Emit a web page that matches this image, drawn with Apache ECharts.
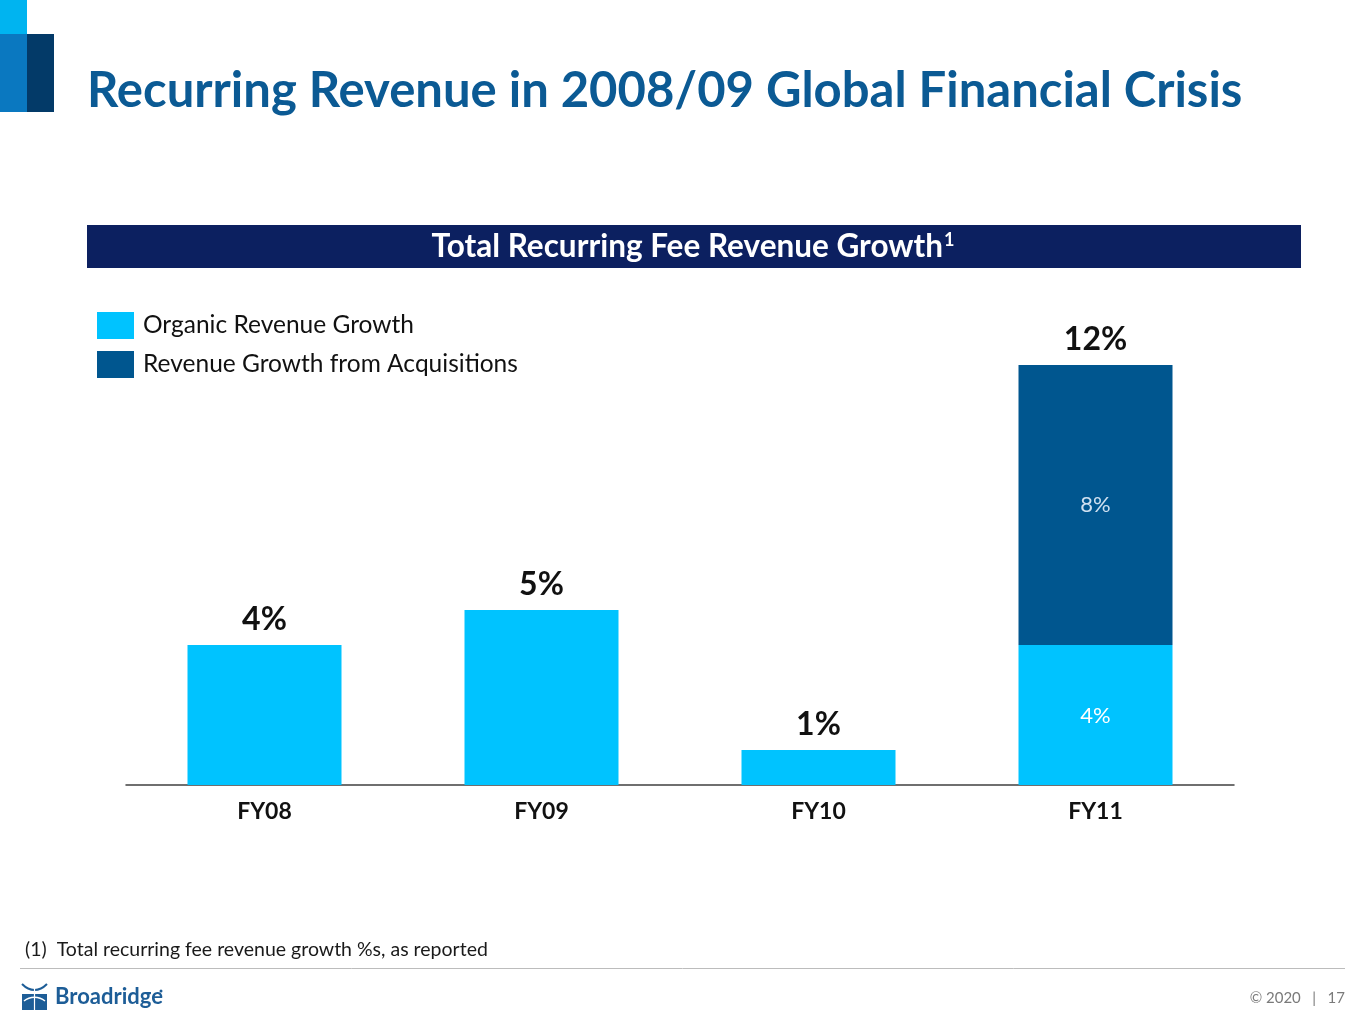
<!DOCTYPE html>
<html>
<head>
<meta charset="utf-8">
<script src="https://cdn.jsdelivr.net/npm/echarts@6/dist/echarts.min.js"></script>
<style>
  html, body { margin: 0; padding: 0; background: #fff; }
  #chart { width: 1365px; height: 1024px; }
</style>
</head>
<body>
<div id="chart"></div>
<script>
const categories = ['FY08', 'FY09', 'FY10', 'FY11'];
const organicGrowth = [4, 5, 1, 4];
const acquisitionGrowth = [null, null, null, 8];
const totalGrowth = [4, 5, 1, 12];
const seriesNames = ['Organic Revenue Growth', 'Revenue Growth from Acquisitions'];

const FONT = 'Lato, "Open Sans", sans-serif';
const CYAN = '#00c3ff';
const DARK = '#00568f';

const chart = echarts.init(document.getElementById('chart'), null, { renderer: 'canvas' });

const option = {
  backgroundColor: '#ffffff',
  animation: false,
  textStyle: { fontFamily: FONT },
  graphic: [
    // top-left logo blocks
    { type: 'rect', shape: { x: 0, y: 0, width: 27, height: 34 }, style: { fill: '#00b4f0' } },
    { type: 'rect', shape: { x: 0, y: 34, width: 27, height: 78 }, style: { fill: '#0a78c0' } },
    { type: 'rect', shape: { x: 27, y: 34, width: 27, height: 78 }, style: { fill: '#033a68' } },
    // title
    { type: 'text', x: 87, y: 91,
      style: { text: 'Recurring Revenue in 2008/09 Global Financial Crisis', fill: '#0b5a94',
               font: 'bold 49px ' + FONT, verticalAlign: 'middle' } },
    // header band
    { type: 'rect', shape: { x: 87, y: 225, width: 1214, height: 43 }, style: { fill: '#0c2060' } },
    { type: 'text', x: 693, y: 247,
      style: { text: '{m|Total Recurring Fee Revenue Growth}{s|1}', align: 'center', verticalAlign: 'middle',
               rich: {
                 m: { fill: '#ffffff', font: 'bold 31.5px ' + FONT, verticalAlign: 'middle' },
                 s: { fill: '#ffffff', font: 'bold 18px ' + FONT, verticalAlign: 'top', padding: [0, 0, 14, 1] }
               } } },
    // footnote
    { type: 'text', x: 25, y: 950,
      style: { text: '(1)  Total recurring fee revenue growth %s, as reported', fill: '#1a1a1a',
               font: '19.5px ' + FONT, verticalAlign: 'middle' } },
    // separator
    { type: 'line', shape: { x1: 20, y1: 968.5, x2: 1345, y2: 968.5 }, style: { stroke: '#bcbcbc', lineWidth: 1 } },
    // bottom logo icon
    { type: 'rect', shape: { x: 22, y: 983, width: 25, height: 27 }, style: { fill: '#1d5d97' } },
    { type: 'rect', shape: { x: 22, y: 983, width: 25, height: 11 }, style: { fill: '#ffffff' } },
    { type: 'bezierCurve', shape: { x1: 22, y1: 984, x2: 47, y2: 984, cpx1: 30, cpy1: 992, cpx2: 39, cpy2: 992 },
      style: { stroke: '#1d5d97', fill: null, lineWidth: 2 } },
    { type: 'bezierCurve', shape: { x1: 24, y1: 1001, x2: 45, y2: 1001, cpx1: 30, cpy1: 996, cpx2: 39, cpy2: 996 },
      style: { stroke: '#ffffff', fill: null, lineWidth: 1.5 } },
    { type: 'line', shape: { x1: 34.5, y1: 986, x2: 34.5, y2: 1010 }, style: { stroke: '#ffffff', lineWidth: 1.2 } },
    { type: 'text', x: 55, y: 997,
      style: { text: 'Broadridge', fill: '#1d5d97', font: 'bold 22px ' + FONT, verticalAlign: 'middle' } },
    { type: 'circle', shape: { cx: 161, cy: 991, r: 1.5 }, style: { fill: '#1d5d97' } },
    // footer right
    { type: 'text', x: 1345, y: 998,
      style: { text: '© 2020   |   17', fill: '#7a7a7a', font: '15px ' + FONT, align: 'right', verticalAlign: 'middle' } }
  ],
  legend: {
    data: seriesNames,
    orient: 'vertical',
    left: 97,
    top: 312,
    padding: 0,
    itemWidth: 37,
    itemHeight: 27,
    itemGap: 12,
    icon: 'rect',
    selectedMode: false,
    textStyle: { color: '#111111', fontSize: 24.5, fontFamily: FONT, padding: [0, 0, 0, 4] }
  },
  grid: { left: 126, right: 131, top: 365, bottom: 239, containLabel: false },
  xAxis: {
    type: 'category',
    data: categories,
    axisLine: { show: true, lineStyle: { color: '#404040', width: 1.5 } },
    axisTick: { show: false },
    axisLabel: { color: '#111111', fontSize: 23, fontWeight: 'bold', fontFamily: FONT, margin: 15 }
  },
  yAxis: {
    type: 'value',
    min: 0,
    max: 12,
    show: false,
    splitLine: { show: false }
  },
  series: [
    {
      name: seriesNames[0],
      type: 'bar',
      stack: 'g',
      barWidth: 154,
      itemStyle: { color: CYAN },
      label: {
        show: true,
        position: 'inside',
        offset: [0, 1],
        color: '#ffffff',
        fontSize: 22,
        fontFamily: FONT,
        formatter: p => (p.dataIndex === 3 ? p.value + '%' : '')
      },
      data: organicGrowth
    },
    {
      name: seriesNames[1],
      type: 'bar',
      stack: 'g',
      barWidth: 154,
      itemStyle: { color: DARK },
      label: {
        show: true,
        position: 'inside',
        color: '#cfe0f0',
        fontSize: 22,
        fontFamily: FONT,
        formatter: p => p.value + '%'
      },
      data: acquisitionGrowth
    },
    {
      name: 'Total',
      type: 'bar',
      stack: 'g',
      barWidth: 154,
      itemStyle: { color: 'transparent' },
      label: {
        show: true,
        position: 'top',
        distance: 9,
        color: '#111111',
        fontSize: 32,
        fontWeight: 'bold',
        fontFamily: FONT,
        formatter: p => totalGrowth[p.dataIndex] + '%'
      },
      data: categories.map(() => 0)
    }
  ]
};

chart.setOption(option);
</script>
</body>
</html>
